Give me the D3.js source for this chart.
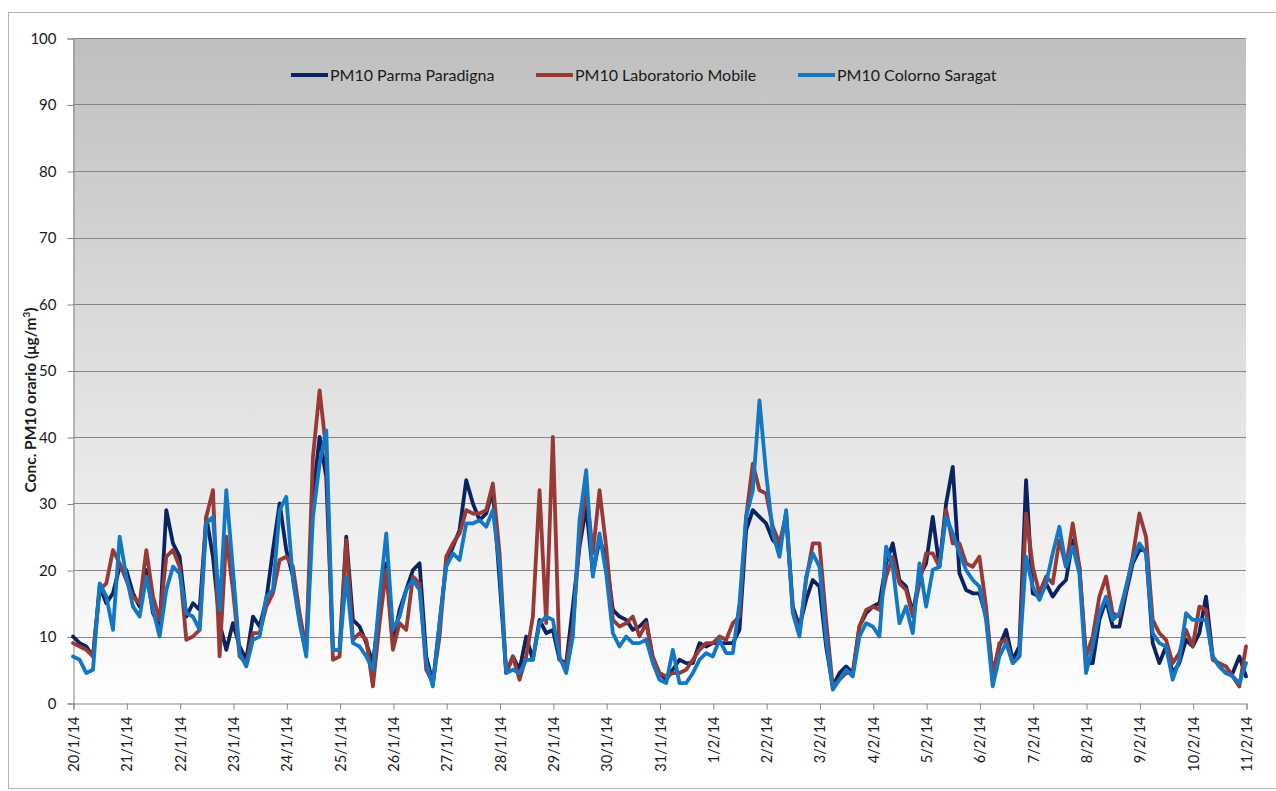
<!DOCTYPE html>
<html>
<head>
<meta charset="utf-8">
<script src="https://cdn.jsdelivr.net/npm/d3@7"></script>
<style>
	body { margin: 0; background: #ffffff; }
	text { font-family: Lato, "Open Sans", sans-serif; fill: #1a1a1a; }
</style>
</head>
<body>
<div id="chart"></div>
<script>

// day labels on the x axis (one tick every 24 hours)
var dayLabels = ["20/1/14", "21/1/14", "22/1/14", "23/1/14", "24/1/14", "25/1/14",
	"26/1/14", "27/1/14", "28/1/14", "29/1/14", "30/1/14", "31/1/14", "1/2/14",
	"2/2/14", "3/2/14", "4/2/14", "5/2/14", "6/2/14", "7/2/14", "8/2/14",
	"9/2/14", "10/2/14", "11/2/14"];

// y ticks
var yTicks = [0, 10, 20, 30, 40, 50, 60, 70, 80, 90, 100];

// readings every 3 hours, one row per day (last value = 11/2 00:00)
var parma = [
	10, 9, 8.5, 7, 17.5, 15, 16.5, 20.5,
	20, 16.5, 14.5, 20, 13.5, 11.5, 29, 24,
	22, 13, 15, 14, 28, 22, 12, 8,
	12, 8.5, 6.5, 13, 11.5, 15.5, 23, 30,
	23, 19, 12.5, 8.5, 31, 40, 34, 8,
	8, 25, 12.5, 11.5, 9, 6, 14, 21,
	9, 14, 17, 20, 21, 7, 3, 12,
	21, 23.5, 26, 33.5, 30, 27.5, 28.5, 32,
	18.5, 4.5, 7, 5, 10, 6.5, 12.5, 10.5,
	11, 6.5, 6, 14.5, 23.5, 29.5, 19.5, 24.5,
	22, 14, 13, 12.5, 11, 11.5, 12.5, 6.5,
	4.5, 3.5, 5, 6.5, 6, 6, 9, 8.5,
	9, 9, 9, 9, 11, 26, 29, 28,
	27, 24.5, 23.5, 28.5, 14.5, 11.5, 15.5, 18.5,
	17.5, 8.5, 2.5, 4.5, 5.5, 4.5, 11.5, 13.5,
	14.5, 15, 21, 24, 18.5, 17.5, 13.5, 19,
	21, 28, 20.5, 30, 35.5, 19.5, 17, 16.5,
	16.5, 13, 4.5, 8.5, 11, 6.5, 8.5, 33.5,
	16.5, 16, 18, 16, 17.5, 18.5, 24.5, 20.5,
	6, 6, 12.5, 15.5, 11.5, 11.5, 16.5, 21,
	23, 23, 9, 6, 8.5, 4.5, 6, 9.5,
	8.5, 10.5, 16, 7, 5.5, 4.5, 4.5, 7,
	4];

var laboratorio = [
	9, 8.5, 8, 7, 17, 18, 23, 21,
	18.5, 16, 15, 23, 16, 12.5, 22, 23,
	20.5, 9.5, 10, 11, 28, 32, 7, 25,
	17, 7, 6, 10.5, 10.5, 14.5, 16.5, 21.5,
	22, 20.5, 13.5, 8, 37, 47, 38, 6.5,
	7, 24.5, 9.5, 10.5, 9.5, 2.5, 12, 20,
	8, 12, 11, 19, 18, 5, 3, 10,
	22, 24, 25.5, 29, 28.5, 28.5, 29, 33,
	22.5, 4.5, 7, 3.5, 7, 13, 32, 12,
	40, 6.5, 5.5, 11.5, 24.5, 32.5, 22.5, 32,
	23.5, 12.5, 11.5, 12, 13, 10, 12, 7,
	4.5, 4, 4.5, 4.5, 5, 6.5, 8, 9,
	9, 10, 9.5, 12, 13, 28, 36, 32,
	31.5, 26.5, 24, 28, 14, 10.5, 18.5, 24,
	24, 12.5, 2.5, 3.5, 4.5, 4.5, 11.5, 14,
	14.5, 14, 19, 22, 18, 17, 13, 18,
	22.5, 22.5, 20.5, 29, 24, 24, 21, 20.5,
	22, 14.5, 4, 9, 9.5, 6, 7, 28.5,
	20.5, 16.5, 19, 18, 24.5, 20.5, 27, 20.5,
	7, 10, 16, 19, 13.5, 13, 17, 22,
	28.5, 25, 12.5, 10.5, 9.5, 6, 7.5, 11,
	8.5, 14.5, 14, 6.5, 6, 5.5, 4, 2.5,
	8.5];

var colorno = [
	7, 6.5, 4.5, 5, 18, 16, 11, 25,
	19, 14.5, 13, 19, 14, 10, 17, 20.5,
	19.5, 13.5, 13, 11, 27, 28, 14, 32,
	20, 7.5, 5.5, 9.5, 10, 16, 17, 29,
	31, 18.5, 12, 7, 28, 36, 41, 8,
	8, 19, 9, 8.5, 7, 5, 16, 25.5,
	11, 13, 17, 18.5, 17, 6, 2.5, 12,
	20.5, 22.5, 21.5, 27, 27, 27.5, 26.5, 29,
	20.5, 4.5, 5, 4.5, 6.5, 6.5, 12, 13,
	12.5, 7, 4.5, 10, 27.5, 35, 19, 25.5,
	19.5, 10.5, 8.5, 10, 9, 9, 9.5, 6,
	3.5, 3, 8, 3, 3, 4.5, 6.5, 7.5,
	7, 9.5, 7.5, 7.5, 15, 28, 32, 45.5,
	34.5, 25.5, 22, 29, 13.5, 10, 19, 22.5,
	20.5, 9.5, 2, 3.5, 5, 4, 10, 12,
	11.5, 10, 23.5, 20.5, 12, 14.5, 10.5, 21,
	14.5, 20, 20.5, 28, 25.5, 22.5, 20, 18.5,
	17.5, 12.5, 2.5, 7, 9, 6, 7, 22,
	17.5, 15.5, 18, 22.5, 26.5, 20.5, 23.5, 19.5,
	4.5, 8.5, 13.5, 16, 12.5, 13.5, 17.5, 21.5,
	24, 22.5, 10.5, 9, 8.5, 3.5, 6.5, 13.5,
	12.5, 12.5, 12.5, 7, 5.5, 4.5, 4, 3,
	6];

var seriesNames = ["PM10 Parma Paradigna", "PM10 Laboratorio Mobile", "PM10 Colorno Saragat"];
var seriesColors = ["#0b2461", "#973a37", "#1277c4"];
var stepHours = 3;

// sizes
var width = 1276,
	height = 791,
	plot = {left: 73, right: 1246, top: 38, bottom: 703};

var svg = d3.select("#chart")
	.append("svg")
	.attr("width", width)
	.attr("height", height);

// outer chart border
svg.append("rect")
	.attr("x", 8.5)
	.attr("y", 12.5)
	.attr("width", 1300)
	.attr("height", 776)
	.attr("fill", "#ffffff")
	.attr("stroke", "#b4b4b4");

// gradient for plot area
var grad = svg.append("defs")
	.append("linearGradient")
	.attr("id", "bg")
	.attr("x1", 0).attr("y1", 0)
	.attr("x2", 0).attr("y2", 1);

grad.append("stop").attr("offset", "0%").attr("stop-color", "#bfbfbf");
grad.append("stop").attr("offset", "100%").attr("stop-color", "#ffffff");

var hoursTotal = (dayLabels.length - 1) * 24;

var x = d3.scaleLinear()
	.domain([0, hoursTotal])
	.range([plot.left, plot.right]);

var y = d3.scaleLinear()
	.domain([0, 100])
	.range([plot.bottom, plot.top]);

svg.append("rect")
	.attr("x", plot.left)
	.attr("y", plot.top)
	.attr("width", plot.right - plot.left)
	.attr("height", plot.bottom - plot.top)
	.attr("fill", "url(#bg)");

// horizontal grid lines
svg.append("g")
	.selectAll("line")
	.data(yTicks.slice(1))
	.enter()
	.append("line")
	.attr("x1", plot.left)
	.attr("x2", plot.right)
	.attr("y1", function(d){ return Math.round(y(d)) + 0.5; })
	.attr("y2", function(d){ return Math.round(y(d)) + 0.5; })
	.attr("stroke", "#868686")
	.attr("stroke-width", 1);

// y axis
var yAxis = svg.append("g")
	.attr("transform", "translate(" + (plot.left + 0.5) + ",0.5)")
	.call(d3.axisLeft(y).tickValues(yTicks).tickSize(6).tickPadding(11));

yAxis.select(".domain").attr("stroke", "#868686");
yAxis.selectAll(".tick line").attr("stroke", "#868686");
yAxis.selectAll(".tick text")
	.attr("font-size", 15)
	.attr("font-family", "Lato, sans-serif")
	.attr("fill", "#1a1a1a");

// x axis
var xAxis = svg.append("g")
	.attr("transform", "translate(0.5," + (plot.bottom + 0.5) + ")")
	.call(d3.axisBottom(x)
		.tickValues(d3.range(0, hoursTotal + 1, 24))
		.tickSize(6)
		.tickFormat(function(d){ return dayLabels[d / 24]; }));

xAxis.select(".domain").attr("stroke", "#868686");
xAxis.selectAll(".tick line").attr("stroke", "#868686");
xAxis.selectAll(".tick text")
	.attr("font-size", 14.5)
	.attr("font-family", "Lato, sans-serif")
	.attr("fill", "#1a1a1a")
	.attr("text-anchor", "end")
	.attr("dy", null)
	.attr("y", 0)
	.attr("transform", "translate(5,13) rotate(-90)");

// lines
var line = d3.line()
	.x(function(d, i){ return x(i * stepHours); })
	.y(function(d){ return y(d); });

var allSeries = [parma, laboratorio, colorno];

svg.append("g")
	.selectAll("path")
	.data(allSeries)
	.enter()
	.append("path")
	.attr("d", line)
	.attr("fill", "none")
	.attr("stroke", function(d, i){ return seriesColors[i]; })
	.attr("stroke-width", 3.8)
	.attr("stroke-linejoin", "round")
	.attr("stroke-linecap", "round");

// legend
var legendX = [291, 536, 798];

var legend = svg.append("g")
	.selectAll("g")
	.data(seriesNames)
	.enter()
	.append("g")
	.attr("transform", function(d, i){ return "translate(" + legendX[i] + ",75)"; });

legend.append("line")
	.attr("x1", 0)
	.attr("x2", 37)
	.attr("stroke", function(d, i){ return seriesColors[i]; })
	.attr("stroke-width", 4);

legend.append("text")
	.attr("x", 39)
	.attr("y", 5.5)
	.attr("font-size", 16)
	.text(function(d){ return d; });

// y axis title
var ytitle = svg.append("text")
	.attr("transform", "translate(36,400) rotate(-90)")
	.attr("text-anchor", "middle")
	.attr("font-size", 15.5)
	.attr("font-weight", "bold");

ytitle.append("tspan").text("Conc. PM10 orario (μg/m");
ytitle.append("tspan").attr("baseline-shift", "super").attr("font-size", 10).text("3");
ytitle.append("tspan").text(")");

</script>
</body>
</html>
